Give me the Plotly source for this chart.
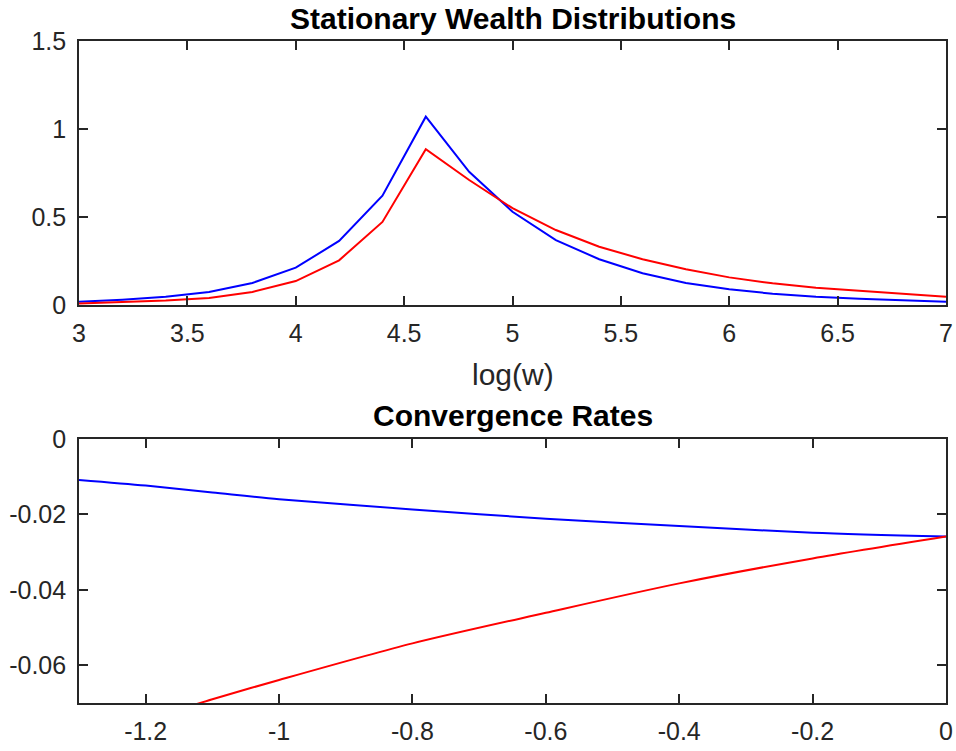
import plotly.graph_objects as go

# Stationary wealth distributions over log wealth
log_w = [3.0, 3.2, 3.4, 3.6, 3.8, 4.0, 4.2, 4.4, 4.6, 4.8, 5.0, 5.2, 5.4,
         5.6, 5.8, 6.0, 6.2, 6.4, 6.6, 6.8, 7.0]
dist_blue = [0.018, 0.03, 0.047, 0.074, 0.125, 0.212, 0.364, 0.621, 1.07, 0.757,
             0.53, 0.369, 0.26, 0.18, 0.125, 0.089, 0.064, 0.047, 0.036, 0.027, 0.019]
dist_red = [0.008, 0.015, 0.025, 0.04, 0.074, 0.136, 0.254, 0.472, 0.885, 0.71,
            0.55, 0.426, 0.331, 0.26, 0.203, 0.157, 0.123, 0.098, 0.08, 0.064, 0.047]

# Convergence rates
rate_x = [-1.3, -1.2, -1.1, -1.0, -0.8, -0.6, -0.4, -0.2, 0.0]
rate_blue = [-0.0109, -0.0124, -0.0142, -0.016, -0.0187, -0.0212, -0.0231, -0.0249, -0.0259]
rate_red = [-0.0775, -0.0743, -0.069, -0.0639, -0.0542, -0.0461, -0.0383, -0.0317, -0.0259]

top_xticks = [3, 3.5, 4, 4.5, 5, 5.5, 6, 6.5, 7]
top_xlabels = ["3", "3.5", "4", "4.5", "5", "5.5", "6", "6.5", "7"]
top_yticks = [0, 0.5, 1, 1.5]
top_ylabels = ["0", "0.5", "1", "1.5"]
bot_xticks = [-1.2, -1.0, -0.8, -0.6, -0.4, -0.2, 0.0]
bot_xlabels = ["-1.2", "-1", "-0.8", "-0.6", "-0.4", "-0.2", "0"]
bot_yticks = [0, -0.02, -0.04, -0.06]
bot_ylabels = ["0", "-0.02", "-0.04", "-0.06"]

W, H = 956, 751
AX = "#262626"
FONT = "Liberation Sans, Arial, Helvetica, sans-serif"
TICK_SIZE = 25
LABEL_SIZE = 30

fig = go.Figure()
fig.add_trace(go.Scatter(x=log_w, y=dist_blue, mode="lines",
                         line=dict(color="#0000ff", width=2), xaxis="x", yaxis="y"))
fig.add_trace(go.Scatter(x=log_w, y=dist_red, mode="lines",
                         line=dict(color="#ff0000", width=2), xaxis="x", yaxis="y"))
fig.add_trace(go.Scatter(x=rate_x, y=rate_blue, mode="lines",
                         line=dict(color="#0000ff", width=2, shape="spline", smoothing=0.8),
                         xaxis="x2", yaxis="y2"))
fig.add_trace(go.Scatter(x=rate_x, y=rate_red, mode="lines",
                         line=dict(color="#ff0000", width=2, shape="spline", smoothing=0.8),
                         xaxis="x2", yaxis="y2"))

axis_style = dict(showline=True, linecolor=AX, linewidth=1.7, mirror="ticks",
                  ticks="inside", ticklen=9, tickwidth=1.5, tickcolor=AX,
                  showgrid=False, zeroline=False, automargin=False,
                  tickfont=dict(family=FONT, size=TICK_SIZE, color=AX))
x_style = dict(axis_style, ticklabelstandoff=5)
y_style = dict(axis_style, ticklabelstandoff=6)

xdom = [79 / W, 946 / W]
xmid = 0.5 * (xdom[0] + xdom[1])
fig.update_layout(
    width=W, height=H,
    margin=dict(l=0, r=0, t=0, b=0, pad=0),
    paper_bgcolor="white", plot_bgcolor="white",
    showlegend=False,
    xaxis=dict(domain=xdom, range=[3, 7], tickvals=top_xticks, ticktext=top_xlabels,
               anchor="y", **x_style),
    yaxis=dict(domain=[1 - 305 / H, 1 - 41 / H], range=[0, 1.5], tickvals=top_yticks,
               ticktext=top_ylabels, anchor="x", **y_style),
    xaxis2=dict(domain=xdom, range=[-1.3, 0], tickvals=bot_xticks, ticktext=bot_xlabels,
                anchor="y2", **x_style),
    yaxis2=dict(domain=[1 - 703 / H, 1 - 438.8 / H], range=[-0.07, 0], tickvals=bot_yticks,
                ticktext=bot_ylabels, anchor="x2", **y_style),
    annotations=[
        dict(text="<b>Stationary Wealth Distributions</b>", x=xmid,
             y=1 - 19 / H, xref="paper", yref="paper", showarrow=False,
             font=dict(family=FONT, size=LABEL_SIZE, color="black"), yanchor="middle"),
        dict(text="log(w)", x=xmid, y=1 - 375 / H,
             xref="paper", yref="paper", showarrow=False,
             font=dict(family=FONT, size=LABEL_SIZE, color=AX), yanchor="middle"),
        dict(text="<b>Convergence Rates</b>", x=xmid,
             y=1 - 416 / H, xref="paper", yref="paper", showarrow=False,
             font=dict(family=FONT, size=LABEL_SIZE, color="black"), yanchor="middle"),
    ],
)

fig.write_html("out.html", post_script="document.body.style.margin='0';")
